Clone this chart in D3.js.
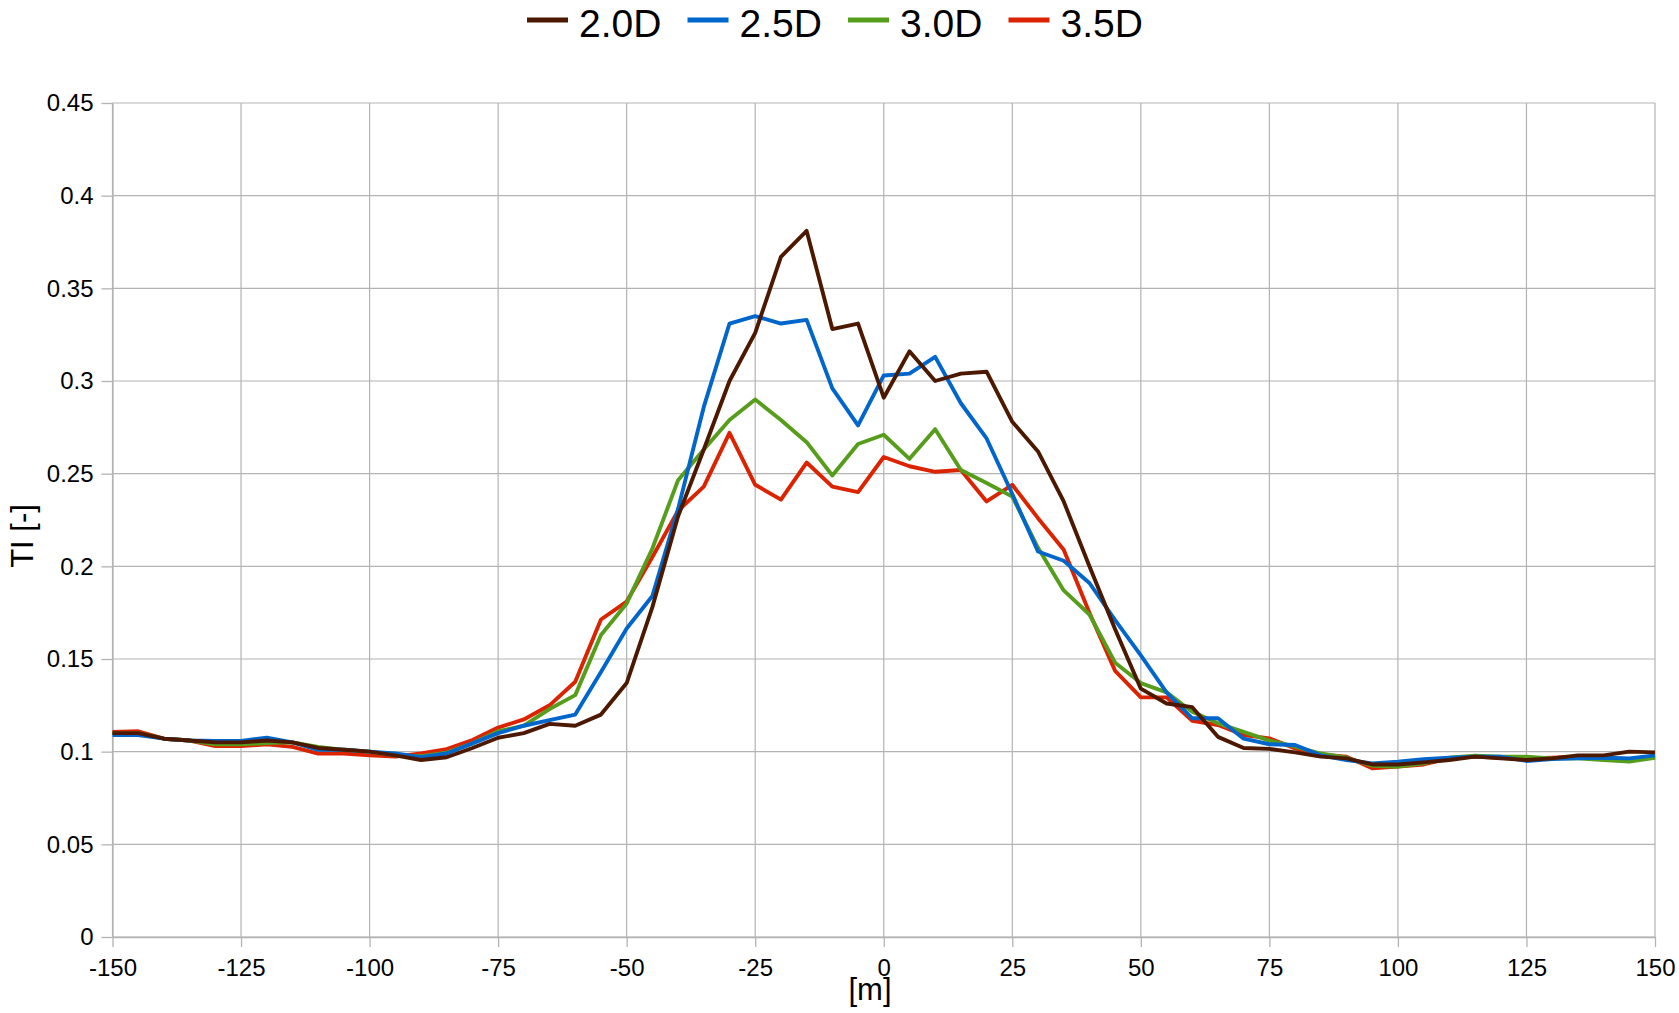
<!DOCTYPE html>
<html lang="en">
<head>
    <meta charset="UTF-8">
    <title>TI profiles</title>
    <script src="https://d3js.org/d3.v7.min.js"></script>
    <style>
        body {
            margin: 0;
            background: #fff;
            font-family: "Liberation Sans", Arial, sans-serif;
            overflow: hidden;
        }
        svg {
            display: block;
        }
        .grid line {
            stroke: #b3b3b3;
            stroke-width: 1.2;
        }
        .axis text {
            font-size: 24px;
            fill: #000;
        }
        .axis path, .axis line {
            stroke: #b3b3b3;
            stroke-width: 1.3;
        }
        .series {
            fill: none;
            stroke-width: 3.9;
            stroke-linejoin: round;
        }
    </style>
</head>
<body>
    <svg id="chart"></svg>

    <script>
        // lateral position [m], one sample every 5 m
        const positions = [
            -150, -145, -140, -135, -130, -125, -120, -115, -110, -105,
            -100, -95, -90, -85, -80, -75, -70, -65, -60, -55,
            -50, -45, -40, -35, -30, -25, -20, -15, -10, -5,
            0, 5, 10, 15, 20, 25, 30, 35, 40, 45,
            50, 55, 60, 65, 70, 75, 80, 85, 90, 95,
            100, 105, 110, 115, 120, 125, 130, 135, 140, 145, 150
        ];

        const ti20 = [
            0.110, 0.110, 0.107, 0.106, 0.105, 0.105, 0.106, 0.105, 0.102, 0.101,
            0.100, 0.098, 0.0955, 0.097, 0.102, 0.1075, 0.110, 0.115, 0.114, 0.120,
            0.137, 0.178, 0.227, 0.263, 0.300, 0.326, 0.367, 0.381, 0.328, 0.331,
            0.291, 0.316, 0.300, 0.304, 0.305, 0.278, 0.262, 0.235, 0.200, 0.166,
            0.134, 0.126, 0.124, 0.108, 0.102, 0.1015, 0.0996, 0.0973, 0.0964, 0.0931,
            0.0931, 0.0942, 0.0955, 0.0973, 0.0964, 0.0955, 0.0964, 0.098, 0.098, 0.100, 0.0996
        ];

        const ti25 = [
            0.109, 0.109, 0.107, 0.106, 0.1058, 0.1058, 0.1075, 0.105, 0.101, 0.101,
            0.100, 0.099, 0.097, 0.099, 0.1045, 0.110, 0.114, 0.117, 0.120, 0.143,
            0.1665, 0.184, 0.231, 0.286, 0.331, 0.335, 0.331, 0.333, 0.296, 0.276,
            0.303, 0.304, 0.313, 0.288, 0.269, 0.239, 0.208, 0.203, 0.191, 0.171,
            0.152, 0.132, 0.118, 0.118, 0.107, 0.104, 0.1036, 0.098, 0.0955, 0.0937,
            0.0946, 0.096, 0.0967, 0.0973, 0.0973, 0.095, 0.096, 0.0964, 0.0967, 0.0964, 0.098
        ];

        const ti30 = [
            0.110, 0.110, 0.107, 0.106, 0.104, 0.104, 0.1046, 0.105, 0.1026, 0.101,
            0.100, 0.098, 0.0976, 0.0995, 0.1045, 0.111, 0.114, 0.123, 0.1305, 0.163,
            0.180, 0.2096, 0.2465, 0.263, 0.279, 0.290, 0.279, 0.267, 0.249, 0.266,
            0.271, 0.258, 0.274, 0.252, 0.245, 0.2376, 0.210, 0.187, 0.174, 0.148,
            0.137, 0.132, 0.1215, 0.1153, 0.1107, 0.106, 0.1027, 0.099, 0.0967, 0.0924,
            0.0919, 0.0937, 0.0967, 0.0978, 0.0973, 0.0973, 0.0964, 0.0964, 0.0955, 0.0946, 0.0967
        ];

        const ti35 = [
            0.1106, 0.111, 0.107, 0.106, 0.103, 0.103, 0.104, 0.1026, 0.099, 0.099,
            0.098, 0.0973, 0.099, 0.1014, 0.1063, 0.113, 0.1174, 0.125, 0.1377, 0.1713,
            0.181, 0.205, 0.230, 0.243, 0.272, 0.244, 0.236, 0.256, 0.243, 0.240,
            0.259, 0.254, 0.251, 0.252, 0.235, 0.244, 0.226, 0.209, 0.175, 0.1436,
            0.1293, 0.1293, 0.1167, 0.1144, 0.109, 0.1072, 0.1018, 0.0985, 0.0973, 0.091,
            0.0919, 0.0931, 0.0964, 0.0973, 0.0967, 0.0964, 0.0967, 0.0973, 0.0967, 0.096, 0.0973
        ];

        const seriesNames = ["2.0D", "2.5D", "3.0D", "3.5D"];
        const seriesColors = ["#4c1900", "#0066cc", "#579d1c", "#dc2300"];
        const seriesValues = [ti20, ti25, ti30, ti35];

        const xTicks = [-150, -125, -100, -75, -50, -25, 0, 25, 50, 75, 100, 125, 150];
        const yTicks = [0, 0.05, 0.1, 0.15, 0.2, 0.25, 0.3, 0.35, 0.4, 0.45];

        const width = 1679;
        const height = 1013;
        const margin = { top: 103, right: 24, bottom: 76, left: 112.5 };
        const innerWidth = width - margin.left - margin.right;
        const innerHeight = height - margin.top - margin.bottom;

        const svg = d3.select("#chart")
            .attr("width", width)
            .attr("height", height);

        const g = svg.append("g")
            .attr("transform", `translate(${margin.left},${margin.top})`);

        const xScale = d3.scaleLinear().domain([-150, 150]).range([0, innerWidth]);
        const yScale = d3.scaleLinear().domain([0, 0.45]).range([innerHeight, 0]);

        // gridlines
        g.append("g").attr("class", "grid")
            .selectAll("line").data(xTicks).join("line")
            .attr("x1", d => xScale(d)).attr("x2", d => xScale(d))
            .attr("y1", 0).attr("y2", innerHeight);
        g.append("g").attr("class", "grid")
            .selectAll("line").data(yTicks).join("line")
            .attr("x1", 0).attr("x2", innerWidth)
            .attr("y1", d => yScale(d)).attr("y2", d => yScale(d));

        // axes
        g.append("g")
            .attr("class", "axis")
            .attr("transform", `translate(0,${innerHeight})`)
            .call(d3.axisBottom(xScale).tickValues(xTicks).tickFormat(d => String(d))
                .tickSize(10).tickSizeOuter(0).tickPadding(12));

        g.append("g")
            .attr("class", "axis")
            .call(d3.axisLeft(yScale).tickValues(yTicks).tickFormat(d => String(d))
                .tickSize(11).tickSizeOuter(0).tickPadding(8));

        // axis titles
        svg.append("text")
            .attr("x", 870)
            .attr("y", 1000)
            .attr("text-anchor", "middle")
            .attr("font-size", "31px")
            .text("[m]");

        svg.append("text")
            .attr("transform", "translate(33,536) rotate(-90)")
            .attr("text-anchor", "middle")
            .attr("font-size", "31px")
            .text("TI [-]");

        // series, last one drawn first so 2.0D ends up on top
        const line = d3.line()
            .x((d, i) => xScale(positions[i]))
            .y(d => yScale(d));

        const order = d3.range(seriesNames.length).reverse();
        g.selectAll(".series")
            .data(order)
            .join("path")
            .attr("class", "series")
            .attr("stroke", i => seriesColors[i])
            .attr("d", i => line(seriesValues[i]));

        // legend
        const legend = svg.append("g").attr("transform", "translate(527,0)");
        const items = legend.selectAll("g")
            .data(seriesNames)
            .join("g")
            .attr("transform", (d, i) => `translate(${i * 160.5},0)`);

        items.append("line")
            .attr("x1", 0).attr("x2", 41)
            .attr("y1", 20).attr("y2", 20)
            .attr("stroke", (d, i) => seriesColors[i])
            .attr("stroke-width", 5);

        items.append("text")
            .attr("x", 52)
            .attr("y", 37)
            .attr("font-size", "39px")
            .text(d => d);
    </script>
</body>
</html>
